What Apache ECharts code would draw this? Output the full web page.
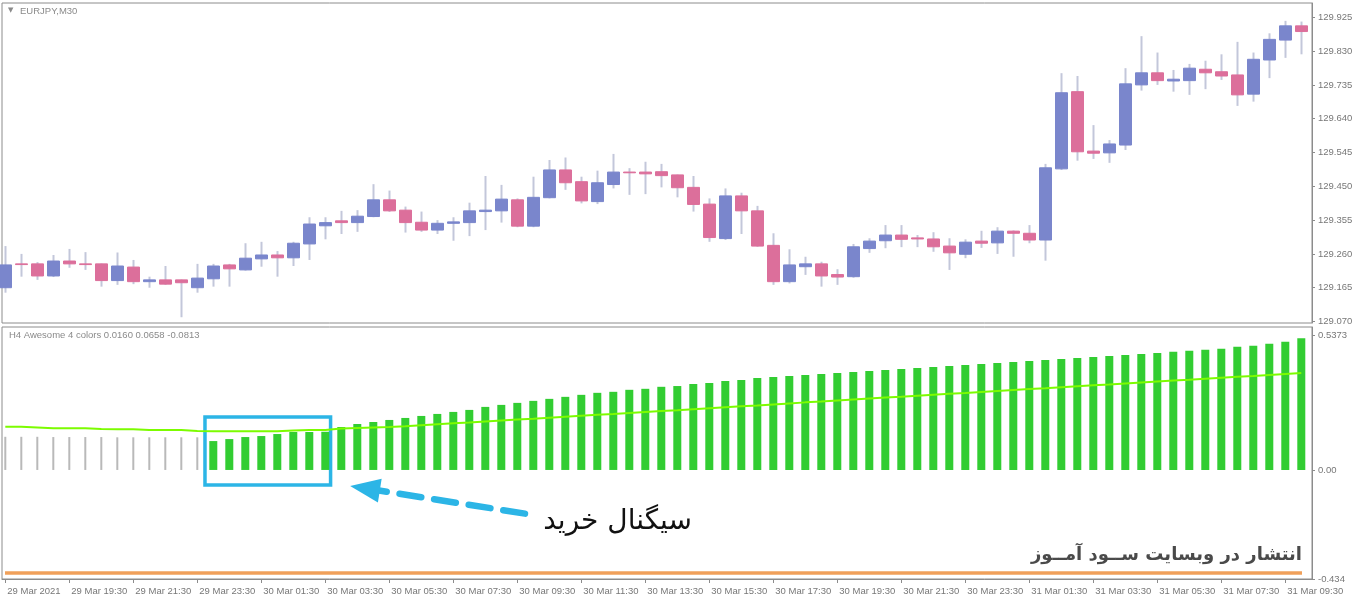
<!DOCTYPE html>
<html><head><meta charset="utf-8">
<script src="https://cdn.jsdelivr.net/npm/echarts@6/dist/echarts.min.js"></script>
<style>html,body{margin:0;padding:0;background:#fff}#c{width:1360px;height:606px}</style>
</head><body><div id="c"></div>
<script>
// ---- data (EURJPY M30 candles, index 0 = 29 Mar 17:30) ----
const opens  = [129.165,129.232,129.232,129.198,129.240,129.232,129.232,129.185,129.223,129.182,
129.187,129.187,129.165,129.190,129.229,129.215,129.246,129.257,129.249,129.288,
129.339,129.353,129.348,129.365,129.412,129.383,129.349,129.327,129.346,129.348,
129.379,129.381,129.412,129.338,129.418,129.496,129.463,129.407,129.455,129.490,
129.490,129.491,129.482,129.447,129.400,129.303,129.423,129.381,129.284,129.182,
129.224,129.232,129.202,129.196,129.275,129.297,129.313,129.305,129.302,129.282,
129.259,129.296,129.291,129.324,129.318,129.299,129.499,129.716,129.549,129.544,
129.566,129.735,129.769,129.746,129.747,129.779,129.772,129.763,129.709,129.805,
129.861,129.901];
const closes = [129.229,129.230,129.198,129.240,129.232,129.230,129.185,129.226,129.182,129.187,
129.175,129.179,129.192,129.226,129.218,129.248,129.257,129.249,129.290,129.344,
129.348,129.348,129.366,129.412,129.381,129.348,129.327,129.346,129.350,129.381,
129.383,129.414,129.338,129.419,129.496,129.460,129.409,129.460,129.490,129.488,
129.485,129.480,129.446,129.399,129.306,129.423,129.381,129.282,129.182,129.229,
129.232,129.198,129.195,129.280,129.296,129.313,129.301,129.302,129.280,129.263,
129.293,129.290,129.324,129.318,129.299,129.502,129.713,129.547,129.543,129.569,
129.738,129.769,129.747,129.751,129.782,129.769,129.760,129.707,129.807,129.863,
129.901,129.885];
const lows   = [129.151,129.196,129.187,129.195,129.221,129.215,129.168,129.173,129.175,129.165,
129.173,129.082,129.151,129.168,129.168,129.213,129.224,129.196,129.226,129.243,
129.301,129.316,129.322,129.363,129.378,129.320,129.322,129.316,129.297,129.310,
129.327,129.348,129.335,129.335,129.416,129.440,129.402,129.400,129.444,129.426,
129.428,129.447,129.419,129.379,129.294,129.299,129.316,129.280,129.173,129.177,
129.201,129.168,129.173,129.193,129.263,129.276,129.279,129.279,129.266,129.215,
129.248,129.277,129.260,129.252,129.290,129.241,129.496,129.522,129.527,129.516,
129.552,129.719,129.735,129.716,129.707,129.723,129.749,129.676,129.688,129.754,
129.811,129.821];
const highs  = [129.282,129.260,129.237,129.257,129.274,129.265,129.233,129.264,129.243,129.196,
129.226,129.188,129.232,129.232,129.232,129.290,129.294,129.268,129.294,129.363,
129.363,129.381,129.383,129.456,129.438,129.393,129.379,129.355,129.363,129.404,
129.479,129.454,129.416,129.477,129.524,129.531,129.477,129.494,129.541,129.501,
129.519,129.513,129.483,129.479,129.416,129.444,129.432,129.395,129.318,129.273,
129.252,129.238,129.217,129.288,129.304,129.341,129.341,129.313,129.321,129.304,
129.301,129.325,129.335,129.326,129.341,129.513,129.768,129.760,129.622,129.580,
129.782,129.872,129.826,129.777,129.794,129.803,129.821,129.856,129.826,129.880,
129.915,129.913];

// H4 Awesome oscillator histogram: gray part (bars 0..12), green part (bars 13..81)
const aoGray  = [0.132,0.132,0.132,0.131,0.131,0.131,0.131,0.130,0.130,0.130,0.130,0.130,0.130];
const aoGreenStart = 13;
const aoGreen = [0.115,0.123,0.131,0.135,0.143,0.151,0.151,0.152,0.171,0.183,
0.191,0.199,0.207,0.215,0.223,0.231,0.239,0.251,0.259,0.267,
0.275,0.283,0.291,0.299,0.307,0.311,0.319,0.323,0.331,0.334,
0.342,0.346,0.354,0.358,0.366,0.370,0.374,0.378,0.382,0.386,
0.390,0.394,0.398,0.402,0.406,0.410,0.414,0.418,0.422,0.426,
0.430,0.434,0.438,0.442,0.446,0.450,0.454,0.458,0.462,0.466,
0.470,0.474,0.478,0.482,0.490,0.494,0.502,0.510,0.524];
const aoSignal = [0.172,0.172,0.169,0.166,0.166,0.166,0.163,0.162,0.162,0.159,
0.159,0.159,0.155,0.154,0.154,0.154,0.154,0.154,0.157,0.159,
0.159,0.165,0.167,0.169,0.171,0.174,0.178,0.182,0.186,0.189,
0.193,0.197,0.201,0.204,0.208,0.212,0.216,0.220,0.223,0.227,
0.231,0.235,0.238,0.242,0.246,0.250,0.254,0.257,0.261,0.265,
0.269,0.272,0.276,0.280,0.284,0.288,0.291,0.295,0.299,0.303,
0.306,0.310,0.314,0.318,0.322,0.325,0.329,0.333,0.337,0.340,
0.344,0.348,0.352,0.356,0.359,0.363,0.367,0.371,0.374,0.378,
0.382,0.386];

const priceTicks = [129.070,129.165,129.260,129.355,129.450,129.545,129.640,129.735,129.830,129.925];
const aoTicks = [0.5373, 0, -0.434];
const aoTickText = ['0.5373', '0.00', '-0.434'];
const timeTickIdx = [0,4,8,12,16,20,24,28,32,36,40,44,48,52,56,60,64,68,72,76,80];
const timeTickText = ['29 Mar 2021','29 Mar 19:30','29 Mar 21:30','29 Mar 23:30','30 Mar 01:30',
'30 Mar 03:30','30 Mar 05:30','30 Mar 07:30','30 Mar 09:30','30 Mar 11:30','30 Mar 13:30',
'30 Mar 15:30','30 Mar 17:30','30 Mar 19:30','30 Mar 21:30','30 Mar 23:30','31 Mar 01:30',
'31 Mar 03:30','31 Mar 05:30','31 Mar 07:30','31 Mar 09:30'];

// ---- build series data ----
const wickData = opens.map((o, i) => [i, o, closes[i], lows[i], highs[i]]);
const bodyData = opens.map((o, i) => [i, o, closes[i], Math.min(o, closes[i]), Math.max(o, closes[i])]);
const grayData = aoGray.map((v, i) => [i, v]);
const greenData = aoGreen.map((v, i) => [i + aoGreenStart, v]);
const signalData = aoSignal.map((v, i) => [i, v]);

const XMIN = -0.206, XMAX = 81.669;
const FONT = 'Liberation Sans';
const TXT = '#777777';
const BLUE = '#7a86cc', PINK = '#dc6f9b', WICK = '#c3c7da';
const CYAN = '#2cb5e6';
const AX = '#8c8c8c';

const chart = echarts.init(document.getElementById('c'), null, {renderer: 'canvas'});
chart.setOption({
  animation: false,
  backgroundColor: '#ffffff',
  grid: [
    {left: 2, top: 3, right: 48, height: 320, show: true, borderColor: AX, borderWidth: 1},
    {left: 2, top: 327, right: 48, height: 252, show: true, borderColor: AX, borderWidth: 1}
  ],
  xAxis: [
    {type: 'value', gridIndex: 0, min: XMIN, max: XMAX, show: false},
    {type: 'value', gridIndex: 1, min: XMIN, max: XMAX, position: 'bottom',
      axisLine: {show: true, onZero: false, lineStyle: {color: AX}},
      splitLine: {show: false},
      axisTick: {show: true, length: 4, lineStyle: {color: AX}, customValues: timeTickIdx},
      axisLabel: {show: true, customValues: timeTickIdx, align: 'left', margin: 7,
        color: TXT, fontFamily: FONT, fontSize: 9.5, padding: [0, 0, 0, 2],
        formatter: v => { const k = timeTickIdx.indexOf(Math.round(v)); return k >= 0 ? timeTickText[k] : ''; }}
    },
    {type: 'value', gridIndex: 1, min: XMIN, max: XMAX, show: false}
  ],
  yAxis: [
    {type: 'value', gridIndex: 0, position: 'right', min: 129.0658, max: 129.9652,
      splitLine: {show: false},
      axisLine: {show: true, onZero: false, lineStyle: {color: AX}},
      axisTick: {show: true, length: 3, lineStyle: {color: AX}, customValues: priceTicks},
      axisLabel: {customValues: priceTicks, margin: 6, color: TXT, fontFamily: FONT, fontSize: 9.5,
        formatter: v => v.toFixed(3)}
    },
    {type: 'value', gridIndex: 1, position: 'right', min: -0.434, max: 0.569,
      splitLine: {show: false},
      axisLine: {show: true, onZero: false, lineStyle: {color: AX}},
      axisTick: {show: true, length: 3, lineStyle: {color: AX}, customValues: aoTicks},
      axisLabel: {customValues: aoTicks, margin: 6, color: TXT, fontFamily: FONT, fontSize: 9.5,
        formatter: v => { let best = 0; aoTicks.forEach((t, k) => { if (Math.abs(t - v) < Math.abs(aoTicks[best] - v)) best = k; }); return aoTickText[best]; }}
    }
  ],
  series: [
    {type: 'candlestick', name: 'wick', xAxisIndex: 0, yAxisIndex: 0, data: wickData,
      encode: {x: 0, y: [1, 2, 3, 4]}, barWidth: 1, clip: true, silent: true,
      itemStyle: {color: WICK, color0: WICK, borderColor: WICK, borderColor0: WICK, borderWidth: 2}},
    {type: 'candlestick', name: 'body', xAxisIndex: 0, yAxisIndex: 0, data: bodyData,
      encode: {x: 0, y: [1, 2, 3, 4]}, barWidth: 13, clip: true, silent: true,
      itemStyle: {color: BLUE, color0: PINK, borderColor: BLUE, borderColor0: PINK, borderWidth: 1}},
    {type: 'bar', name: 'aoGray', xAxisIndex: 2, yAxisIndex: 1, data: grayData, barWidth: 2,
      itemStyle: {color: '#b9b9b9'}, silent: true},
    {type: 'bar', name: 'aoGreen', xAxisIndex: 1, yAxisIndex: 1, data: greenData, barWidth: 8,
      itemStyle: {color: '#32cd32'}, silent: true,
      markArea: {silent: true,
        itemStyle: {color: 'rgba(0,0,0,0)', borderColor: CYAN, borderWidth: 3.5},
        data: [[{coord: [12.48, 0.211]}, {coord: [20.33, -0.060]}]]},
      markLine: {silent: true, symbol: ['triangle', 'none'], symbolSize: [24, 30],
        label: {show: false},
        lineStyle: {color: CYAN, width: 6.5, type: [22, 13], cap: 'round'},
        data: [[{coord: [22.48, -0.073]}, {coord: [32.6, -0.175]}]]}
    },
    {type: 'line', name: 'signal', xAxisIndex: 1, yAxisIndex: 1, data: signalData, showSymbol: false,
      z: 5, silent: true, lineStyle: {color: '#7cfc00', width: 2}}
  ],
  graphic: [
    {type: 'text', left: 8, top: 7, style: {text: '▼', fill: '#8a8a8a', font: '7px DejaVu Sans'}},
    {type: 'text', left: 20, top: 6, style: {text: 'EURJPY,M30', fill: '#8a8a8a', font: '9.5px Liberation Sans'}},
    {type: 'text', left: 9, top: 330, style: {text: 'H4 Awesome 4 colors 0.0160 0.0658 -0.0813', fill: '#8a8a8a', font: '9.5px Liberation Sans'}},
    {type: 'line', shape: {x1: 5, y1: 573, x2: 1302, y2: 573}, style: {stroke: '#f0a05a', lineWidth: 3.5}},
    {type: 'text', x: 692, y: 522, style: {text: 'سیگنال خرید', fill: '#111111', font: '28px DejaVu Sans', align: 'right', verticalAlign: 'middle'}},
    {type: 'text', x: 1302, y: 555, style: {text: 'انتشار در وبسایت ســود آمــوز', fill: '#4a4a4a', font: 'bold 18px DejaVu Sans', align: 'right', verticalAlign: 'middle'}}
  ]
});
</script></body></html>
